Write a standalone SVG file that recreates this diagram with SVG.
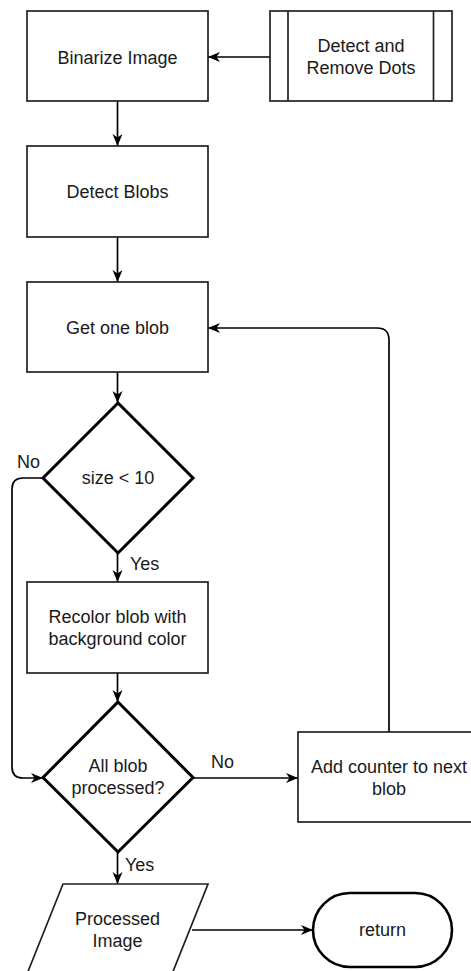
<svg xmlns="http://www.w3.org/2000/svg" width="471" height="971" viewBox="0 0 471 971">
<style>
.box{fill:#fff;stroke:#222;stroke-width:1.7}
.dec{fill:#fff;stroke:#000;stroke-width:3}
.term{fill:#fff;stroke:#000;stroke-width:2.6}
.t{font-family:"Liberation Sans",Arial,sans-serif;font-size:18px;fill:#1a1a1a;text-anchor:middle}
.lbl{font-family:"Liberation Sans",Arial,sans-serif;font-size:18px;fill:#1a1a1a}
.c{fill:none;stroke:#000;stroke-width:1.7}
</style>
<defs>
<marker id="arr" markerUnits="userSpaceOnUse" markerWidth="14" markerHeight="12" refX="13" refY="6" orient="auto">
<path d="M1,1 L13,6 L1,11 L4.5,6 Z" fill="#000"/>
</marker>
</defs>
<rect width="471" height="971" fill="#fff"/>
<g id="connectors">
<path class="c" d="M270,57 L208,57" marker-end="url(#arr)"/>
<path class="c" d="M117.5,101 L117.5,146" marker-end="url(#arr)"/>
<path class="c" d="M117.5,237 L117.5,282" marker-end="url(#arr)"/>
<path class="c" d="M117.5,372 L117.5,403" marker-end="url(#arr)"/>
<path class="c" d="M117.5,553 L117.5,582" marker-end="url(#arr)"/>
<path class="c" d="M117.5,673 L117.5,702" marker-end="url(#arr)"/>
<path class="c" d="M43,478 L23,478 Q12,478 12,489 L12,767 Q12,778 23,778 L43,778" marker-end="url(#arr)"/>
<path class="c" d="M193,778 L298,778" marker-end="url(#arr)"/>
<path class="c" d="M389,732 L389,340 Q389,328 377,328 L208,328" marker-end="url(#arr)"/>
<path class="c" d="M117.5,852 L117.5,884" marker-end="url(#arr)"/>
<path class="c" d="M192,930 L313,930" marker-end="url(#arr)"/>
<text class="lbl" x="17" y="468">No</text>
<text class="lbl" x="130" y="570">Yes</text>
<text class="lbl" x="211" y="768">No</text>
<text class="lbl" x="125" y="871">Yes</text>
</g>
<g id="binarize">
<rect class="box" x="27" y="11" width="181" height="90"/>
<text class="t" x="117.5" y="63.5">Binarize Image</text>
</g>
<g id="detect-remove-dots">
<rect class="box" x="270" y="11" width="182" height="90"/>
<line class="box" x1="288" y1="11" x2="288" y2="101"/>
<line class="box" x1="433.5" y1="11" x2="433.5" y2="101"/>
<text class="t" x="361" y="52">Detect and</text>
<text class="t" x="361" y="74">Remove Dots</text>
</g>
<g id="detect-blobs">
<rect class="box" x="27" y="146" width="181" height="91"/>
<text class="t" x="117.5" y="198">Detect Blobs</text>
</g>
<g id="get-one-blob">
<rect class="box" x="27" y="282" width="181" height="90"/>
<text class="t" x="117.5" y="334">Get one blob</text>
</g>
<g id="size-check">
<polygon class="dec" points="118,403 193,478 118,553 43,478"/>
<text class="t" x="118" y="484">size &lt; 10</text>
</g>
<g id="recolor">
<rect class="box" x="27" y="582" width="181" height="91"/>
<text class="t" x="117.5" y="623">Recolor blob with</text>
<text class="t" x="117.5" y="645">background color</text>
</g>
<g id="all-processed">
<polygon class="dec" points="118,702 193,777.5 118,852 43,777.5"/>
<text class="t" x="118" y="772">All blob</text>
<text class="t" x="118" y="794">processed?</text>
</g>
<g id="add-counter">
<rect class="box" x="298" y="732" width="181" height="90"/>
<text class="t" x="389" y="773">Add counter to next</text>
<text class="t" x="389" y="795">blob</text>
</g>
<g id="processed-image">
<polygon class="box" points="63,884 208,884 172,974 27,974"/>
<text class="t" x="117.5" y="925">Processed</text>
<text class="t" x="117.5" y="947">Image</text>
</g>
<g id="return">
<rect class="term" x="313" y="893" width="139" height="74" rx="37" ry="37"/>
<text class="t" x="382.5" y="936">return</text>
</g>
</svg>
